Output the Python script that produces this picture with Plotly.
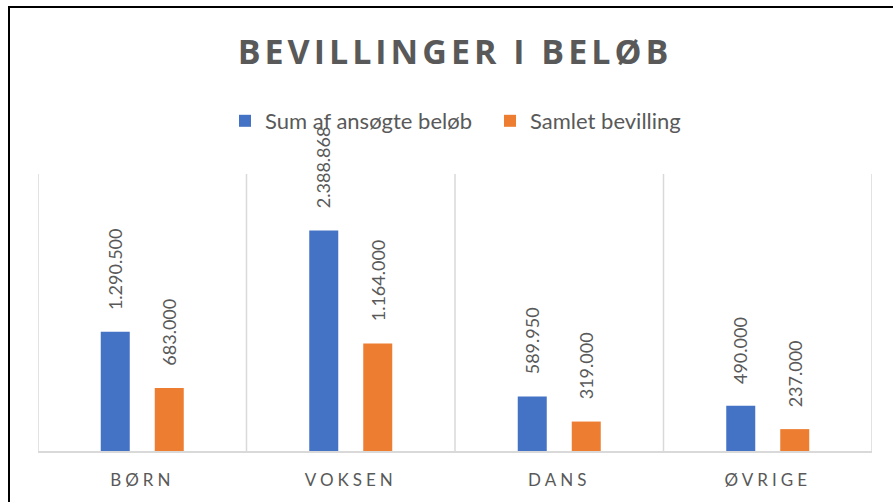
import plotly.graph_objects as go

categories = ["BØRN", "VOKSEN", "DANS", "ØVRIGE"]
sum_ansogte = [1290500, 2388868, 589950, 490000]
samlet_bevilling = [683000, 1164000, 319000, 237000]
series_names = ["Sum af ansøgte beløb", "Samlet bevilling"]
title_text = "BEVILLINGER I BELØB"

def fmt(v):
    return f"{v:,}".replace(",", ".")

BLUE = "#4472C4"
ORANGE = "#ED7D31"
GRAY = "#595959"
GRID = "#D9D9D9"

W, H = 893, 502
L, R, T, B = 38, 21, 174, 51
PW, PH = W - L - R, H - T - B

BARGAP = 0.482
BARGROUPGAP = 0.463
slot = (1 - BARGAP) / 2

fig = go.Figure()
fig.add_trace(go.Bar(x=categories, y=sum_ansogte, name=series_names[0],
                     marker=dict(color=BLUE, line=dict(width=0))))
fig.add_trace(go.Bar(x=categories, y=samlet_bevilling, name=series_names[1],
                     marker=dict(color=ORANGE, line=dict(width=0))))

annotations = []
for series, sign in ((sum_ansogte, -1), (samlet_bevilling, 1)):
    for i, v in enumerate(series):
        annotations.append(dict(
            x=i + sign * slot / 2, y=v, xref="x", yref="y",
            text=fmt(v), textangle=-90, showarrow=False,
            xanchor="center", yanchor="bottom", yshift=20,
            font=dict(family="Lato", size=18, color=GRAY),
        ))

shapes = []
for k in range(len(categories) + 1):
    shapes.append(dict(type="line", xref="x", yref="paper",
                       x0=k - 0.5, x1=k - 0.5, y0=0, y1=1,
                       line=dict(color=GRID, width=1.5), layer="below"))
# outer chart border
shapes.append(dict(type="rect", xref="paper", yref="paper",
                   x0=(9 - L) / PW, x1=(W + 20 - L) / PW,
                   y0=-1, y1=(H - B - 7) / PH,
                   line=dict(color="black", width=2)))

fig.update_layout(
    width=W, height=H,
    margin=dict(l=L, r=R, t=T, b=B),
    paper_bgcolor="white", plot_bgcolor="white",
    barmode="group", bargap=BARGAP, bargroupgap=BARGROUPGAP,
    title=dict(
        text=f'<span style="letter-spacing:4px">{title_text}</span>',
        x=0.5, xref="paper", xanchor="center",
        y=1 - 52 / H, yref="container", yanchor="middle",
        font=dict(family="Open Sans", size=34, color=GRAY, weight="bold"),
    ),
    legend=dict(orientation="h", x=(490 - L) / PW, xanchor="center",
                y=(H - B - 121) / PH, yanchor="middle",
                itemwidth=30, entrywidth=220, entrywidthmode="pixels",
                font=dict(family="Lato", size=22, color=GRAY),
                bgcolor="rgba(0,0,0,0)"),
    xaxis=dict(
        tickmode="array", tickvals=categories,
        ticktext=[f'<span style="letter-spacing:4px">{c}</span>' for c in categories],
        showgrid=False, showline=True, linecolor=GRID, linewidth=1.5,
        ticks="", ticklabelstandoff=13,
        tickfont=dict(family="Lato", size=17, color=GRAY),
        range=[-0.5, len(categories) - 0.5],
    ),
    yaxis=dict(range=[0, 3000000], visible=False, showgrid=False),
    annotations=annotations,
    shapes=shapes,
    showlegend=True,
)

fig.write_html("out.html",
               config={"displayModeBar": False},
               post_script="document.body.style.margin='0';document.body.style.overflow='hidden';")
